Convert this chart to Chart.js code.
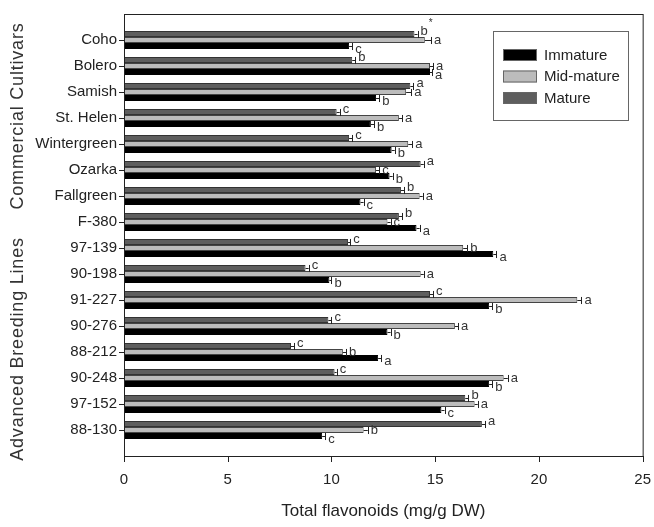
<!DOCTYPE html>
<html>
<head>
<meta charset="utf-8">
<script src="https://cdn.jsdelivr.net/npm/chart.js@4.4.1/dist/chart.umd.min.js"></script>
<style>
  html, body { margin: 0; padding: 0; background: #fff; }
  canvas { display: block; }
</style>
</head>
<body>
<canvas id="c" width="654" height="527"></canvas>
<script>
const cultivars = ['Coho', 'Bolero', 'Samish', 'St. Helen', 'Wintergreen', 'Ozarka', 'Fallgreen', 'F-380',
  '97-139', '90-198', '91-227', '90-276', '88-212', '90-248', '97-152', '88-130']

// mean total flavonoids (mg/g DW) per stage
const mature    = [14.0, 11.0, 13.8, 10.25, 10.85, 14.3, 13.35, 13.25, 10.8, 8.75, 14.75, 9.85, 8.05, 10.15, 16.45, 17.25]
const midMature = [14.5, 14.75, 13.6, 13.25, 13.7, 12.15, 14.25, 12.7, 16.35, 14.3, 21.85, 15.95, 10.55, 18.3, 16.9, 11.55]
const immature  = [10.85, 14.75, 12.15, 11.9, 12.9, 12.8, 11.4, 14.1, 17.8, 9.9, 17.6, 12.7, 12.25, 17.6, 15.3, 9.55]

// error bar half-widths
const errMature    = [0.15, 0.15, 0.15, 0.15, 0.15, 0.15, 0.15, 0.15, 0.1, 0.15, 0.15, 0.15, 0.15, 0.1, 0.15, 0.15]
const errMidMature = [0.3, 0.15, 0.25, 0.15, 0.2, 0.15, 0.15, 0.15, 0.2, 0.15, 0.2, 0.15, 0.15, 0.2, 0.15, 0.2]
const errImmature  = [0.15, 0.1, 0.15, 0.15, 0.15, 0.15, 0.15, 0.15, 0.15, 0.1, 0.15, 0.15, 0.15, 0.15, 0.15, 0.15]

// significance letters
const lettersMature    = ['b*', 'b', 'a', 'c', 'c', 'a', 'b', 'b', 'c', 'c', 'c', 'c', 'c', 'c', 'b', 'a']
const lettersMidMature = ['a', 'a', 'a', 'a', 'a', 'c', 'a', 'c', 'b', 'a', 'a', 'a', 'b', 'a', 'a', 'b']
const lettersImmature  = ['c', 'a', 'b', 'b', 'b', 'b', 'c', 'a', 'a', 'b', 'b', 'b', 'a', 'b', 'c', 'c']

const xTicks = [0, 5, 10, 15, 20, 25]
const groupTitles = ['Commercial Cultivars', 'Advanced Breeding Lines']

const FONT = "'Liberation Sans', Arial, sans-serif"
const letterOffset = [-3, 0, 3]
const titleY = [116, 349]

const annot = {
  id: 'annot',
  afterDatasetsDraw(chart) {
    const { ctx, scales: { x } } = chart
    ctx.save()
    chart.data.datasets.forEach((ds, di) => {
      chart.getDatasetMeta(di).data.forEach((bar, i) => {
        const x0 = x.getPixelForValue(ds.data[i])
        const x1 = x.getPixelForValue(ds.data[i] + ds.err[i])
        const y = Math.round(bar.y) + 0.5, h = bar.height
        ctx.strokeStyle = '#222'; ctx.lineWidth = 1
        ctx.beginPath()
        ctx.moveTo(x0, y); ctx.lineTo(x1, y)
        ctx.moveTo(Math.round(x1) + 0.5, y - h / 2 - 0.5); ctx.lineTo(Math.round(x1) + 0.5, y + h / 2 + 0.5)
        ctx.stroke()
        const txt = ds.letters[i]
        ctx.fillStyle = '#333'; ctx.textBaseline = 'middle'; ctx.textAlign = 'left'
        ctx.font = '13px ' + FONT
        const lx = x1 + 3, ly = bar.y + letterOffset[di]
        const main = txt.replace('*', '')
        ctx.fillText(main, lx, ly)
        if (txt.includes('*')) {
          const w = ctx.measureText(main).width
          ctx.font = '10px ' + FONT
          ctx.fillText('*', lx + w + 1, ly - 8)
        }
      })
    })
    ctx.restore()
  },
  afterDraw(chart) {
    const { ctx, chartArea: ca, scales: { x } } = chart
    const top = ca.top - 13, bottom = ca.bottom + 13
    ctx.save()
    ctx.strokeStyle = '#222'; ctx.lineWidth = 1
    ctx.strokeRect(ca.left + 0.5, top + 0.5, ca.right - ca.left, bottom - top)
    ctx.beginPath()
    x.ticks.forEach(t => {
      const px = Math.round(x.getPixelForValue(t.value)) + 0.5
      ctx.moveTo(px, bottom); ctx.lineTo(px, bottom + 6)
    })
    ctx.stroke()

    // group titles on the left
    ctx.fillStyle = '#333'; ctx.font = '18px ' + FONT
    ctx.textAlign = 'center'; ctx.textBaseline = 'middle'
    ctx.letterSpacing = '0.8px'
    groupTitles.forEach((t, k) => {
      ctx.save(); ctx.translate(18, titleY[k]); ctx.rotate(-Math.PI / 2)
      ctx.fillText(t, 0, 0); ctx.restore()
    })
    ctx.letterSpacing = '0px'

    // legend
    const lx = 493, ly = 31
    ctx.strokeStyle = '#666'
    ctx.strokeRect(lx + 0.5, ly + 0.5, 135, 89)
    const order = [2, 1, 0]
    ctx.font = '15px ' + FONT; ctx.textAlign = 'left'
    order.forEach((di, k) => {
      const ds = chart.data.datasets[di]
      const sy = 49 + k * 21.5
      ctx.fillStyle = ds.backgroundColor
      ctx.fillRect(503, sy, 34, 12)
      ctx.strokeStyle = '#666'
      ctx.strokeRect(503.5, sy + 0.5, 33, 11)
      ctx.fillStyle = '#222'
      ctx.fillText(ds.label, 544, sy + 6.5)
    })
    ctx.restore()
  }
}

new Chart(document.getElementById('c'), {
  type: 'bar',
  data: {
    labels: cultivars,
    datasets: [
      { label: 'Mature', data: mature, err: errMature, letters: lettersMature, backgroundColor: '#5e5e5e', borderColor: '#333', borderWidth: 1 },
      { label: 'Mid-mature', data: midMature, err: errMidMature, letters: lettersMidMature, backgroundColor: '#bcbcbc', borderColor: '#444', borderWidth: 1 },
      { label: 'Immature', data: immature, err: errImmature, letters: lettersImmature, backgroundColor: '#000000', borderColor: '#000', borderWidth: 1 },
    ],
  },
  options: {
    indexAxis: 'y',
    responsive: false,
    animation: false,
    layout: { padding: { top: 27, right: 10, left: 0, bottom: 0 } },
    datasets: { bar: { categoryPercentage: 0.7, barPercentage: 1 } },
    plugins: { legend: { display: false }, tooltip: { enabled: false } },
    scales: {
      x: {
        type: 'linear', min: 0, max: 25,
        afterBuildTicks: s => { s.ticks = xTicks.map(v => ({ value: v })) },
        afterFit: s => { s.height = 84 },
        // invisible tick marks only push the labels below the framed box
        grid: { display: true, drawOnChartArea: false, drawTicks: true, tickLength: 25, color: 'rgba(0,0,0,0)' },
        border: { display: false },
        ticks: { color: '#222', padding: 3, font: { family: FONT, size: 15 } },
        title: { display: true, text: 'Total flavonoids (mg/g DW)', color: '#222', font: { family: FONT, size: 17 }, padding: { top: 0, bottom: 5 } },
      },
      y: {
        afterFit: s => { s.width = 124 },
        grid: { display: true, drawOnChartArea: false, drawTicks: true, tickLength: 5, color: '#222', offset: false },
        border: { display: false },
        ticks: { color: '#222', padding: 2, font: { family: FONT, size: 15 } },
      },
    },
  },
  plugins: [annot],
})
</script>
</body>
</html>
